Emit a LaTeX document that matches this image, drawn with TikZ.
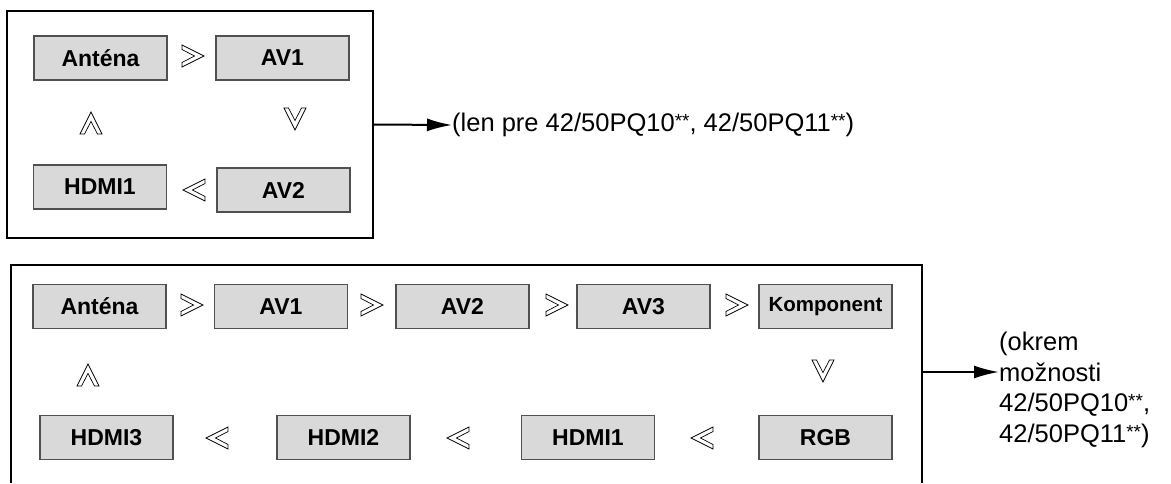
\documentclass[tikz,border=0pt]{standalone}
\usepackage{fontspec}
\setmainfont{Liberation Sans}
\usetikzlibrary{arrows.meta}
\definecolor{boxfill}{HTML}{D9D9D9}
\definecolor{boxline}{HTML}{505050}
\newcommand{\stars}{\raisebox{4pt}{\fontsize{19}{19}\selectfont **}}
\tikzset{
  src/.style={draw=boxline, fill=boxfill, line width=1.3pt, minimum width=133pt, minimum height=44pt, inner sep=0pt,
    font=\fontsize{23}{27}\selectfont\bfseries},
  frame/.style={draw=black, line width=1.3pt},
  lead/.style={line width=2pt, -{Latex[length=25pt,width=13pt]}},
  note/.style={font=\fontsize{25.5}{30.5}\selectfont, inner sep=0pt, align=left},
  chev/.pic={\draw[line width=0.7pt, fill=white, line join=miter] (-11,-11) -- (11,0) -- (-11,11) -- (-11,6.5) -- (1.5,0) -- (-11,-6.5) -- cycle;}
}
\begin{document}
\begin{tikzpicture}[x=1pt,y=-1pt]
\useasboundingbox (0,0) rectangle (1171,483);
% top group
\node[frame, minimum width=366pt, minimum height=227pt, inner sep=0pt] (boxA) at (190,124.5) {};
\node[src] (a1) at (100.5,58) {Anténa};
\node[src] (a2) at (282.5,58) {AV1};
\node[src] (a3) at (283.5,190) {AV2};
\node[src] (a4) at (100,187) {HDMI1};
\pic at (193,56) {chev};
\pic[rotate=-90] at (295,119) {chev};
\pic[rotate=180] at (194,190) {chev};
\pic[rotate=90] at (91,123) {chev};
\node[note, anchor=west] (txtA) at (452,125) {(len pre 42/50PQ10\stars, 42/50PQ11\stars)};
\draw[lead] (boxA.east) -- (txtA.west);
% bottom group
\draw[frame] (11,483) -- (11,265) -- (922,265) -- (922,483);
\coordinate (boxB) at (922,372);
\node[src] (b1) at (99.5,306.5) {Anténa};
\node[src] (b2) at (281,306.5) {AV1};
\node[src] (b3) at (462.5,306.5) {AV2};
\node[src] (b4) at (643.5,306.5) {AV3};
\node[src, font=\fontsize{20.5}{24}\selectfont\bfseries] (b5) at (825.5,306.5) {Komponent};
\node[src] (b6) at (825.5,437.5) {RGB};
\node[src] (b7) at (588,437.5) {HDMI1};
\node[src] (b8) at (343.5,437.5) {HDMI2};
\node[src] (b9) at (106.5,437.5) {HDMI3};
\pic at (192,305) {chev};
\pic at (372,305) {chev};
\pic at (557,305) {chev};
\pic at (737,305) {chev};
\pic[rotate=-90] at (823,371) {chev};
\pic[rotate=180] at (702,438) {chev};
\pic[rotate=180] at (458,438) {chev};
\pic[rotate=180] at (217,438) {chev};
\pic[rotate=90] at (88,375) {chev};
\node[note, anchor=west] (txtB) at (999,390) {(okrem\\možnosti\\42/50PQ10\stars,\\42/50PQ11\stars)};
\draw[lead] (boxB) -- (boxB -| txtB.west);
\end{tikzpicture}
\end{document}
